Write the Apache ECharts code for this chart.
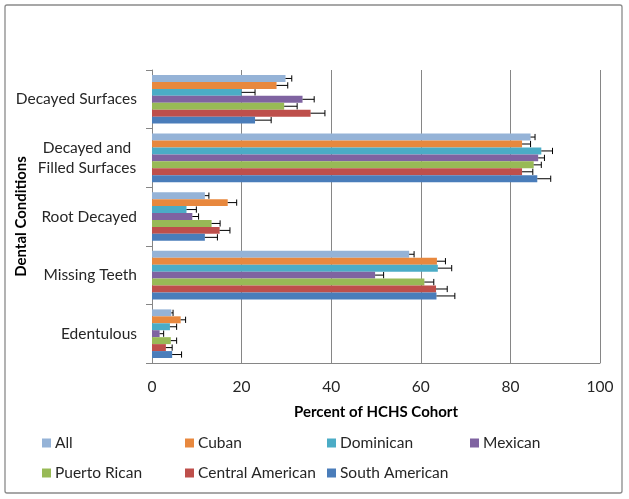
<!DOCTYPE html>
<html><head><meta charset="utf-8">
<script src="https://cdn.jsdelivr.net/npm/echarts@6/dist/echarts.min.js"></script>
<style>html,body{margin:0;padding:0;background:#fff}#c{width:629px;height:499px}</style>
</head><body><div id="c"></div>
<script>
const categories = ['Decayed Surfaces', 'Decayed and\nFilled Surfaces', 'Root Decayed', 'Missing Teeth', 'Edentulous'];
const seriesNames = ['All', 'Cuban', 'Dominican', 'Mexican', 'Puerto Rican', 'Central American', 'South American'];
const colors = ['#95B3D7', '#E8883E', '#4BACC6', '#7F63A1', '#98BA56', '#BE4F4B', '#4A7DBA'];

// bar values per group
const allVals      = [29.8, 84.5, 11.8, 57.4, 4.3];
const cubanVals    = [27.8, 82.6, 16.9, 63.6, 6.4];
const dominicanVals= [20.0, 86.9, 7.7, 63.8, 4.0];
const mexicanVals  = [33.6, 86.2, 9.0, 49.8, 1.7];
const prVals       = [29.5, 85.2, 13.3, 60.8, 4.2];
const caVals       = [35.4, 82.6, 15.1, 63.4, 3.1];
const saVals       = [23.0, 86.0, 11.8, 63.5, 4.5];

// upper ends of error bars
const allErr       = [31.2, 85.5, 12.7, 58.5, 4.7];
const cubanErr     = [30.3, 84.5, 18.9, 65.5, 7.5];
const dominicanErr = [23.0, 89.4, 9.9, 66.9, 5.5];
const mexicanErr   = [36.2, 87.6, 10.4, 51.7, 2.6];
const prErr        = [32.4, 86.9, 15.2, 62.9, 5.5];
const caErr        = [38.6, 85.0, 17.4, 65.9, 4.5];
const saErr        = [26.6, 89.0, 14.6, 67.6, 6.6];

const xTicks = [0, 20, 40, 60, 80, 100];

const values = [allVals, cubanVals, dominicanVals, mexicanVals, prVals, caVals, saVals];
const errs = [allErr, cubanErr, dominicanErr, mexicanErr, prErr, caErr, saErr];

const FONT = 'Lato';
const GAP = 0.17;
const N = seriesNames.length;

const series = [];
seriesNames.forEach((name, i) => {
  series.push({
    name: name, type: 'bar', data: values[i],
    itemStyle: { color: colors[i] },
    barGap: '0%', barCategoryGap: (GAP * 100) + '%',
    silent: true
  });
});
seriesNames.forEach((name, i) => {
  series.push({
    type: 'custom', name: name + ' err', silent: true, z: 5,
    data: values[i].map((v, k) => [v, k, errs[i][k]]),
    encode: { x: [0, 2], y: 1 },
    renderItem: function (params, api) {
      const v = api.value(0), k = api.value(1), hi = api.value(2);
      const p0 = api.coord([v, k]);
      const p1 = api.coord([hi, k]);
      const band = api.size([0, 1])[1];
      const bw = band * (1 - GAP) / N;
      const y = p0[1] - band * (1 - GAP) / 2 + (i + 0.5) * bw;
      const cap = bw * 0.9;
      const st = { stroke: '#000', lineWidth: 1 };
      return { type: 'group', children: [
        { type: 'line', shape: { x1: p0[0], y1: y, x2: p1[0], y2: y }, style: st },
        { type: 'line', shape: { x1: p1[0], y1: y - cap / 2, x2: p1[0], y2: y + cap / 2 }, style: st }
      ]};
    }
  });
});

const legendPos = [[42, 435], [185, 435], [327, 435], [470, 435], [42, 465], [185, 465], [327, 465]];
const legends = seriesNames.map((n, i) => ({
  data: [n], left: legendPos[i][0], top: legendPos[i][1], padding: 0,
  icon: 'rect', itemWidth: 9, itemHeight: 9, itemGap: 5, selectedMode: false,
  textStyle: { fontFamily: FONT, fontSize: 15.5, color: '#262626', padding: [0, 0, 0, -1] }
}));

const chart = echarts.init(document.getElementById('c'), null, { renderer: 'canvas' });
chart.setOption({
  animation: false,
  backgroundColor: '#fff',
  textStyle: { fontFamily: FONT },
  graphic: [{ type: 'rect', shape: { x: 5, y: 5, width: 617, height: 488, r: 2 }, style: { fill: 'none', stroke: '#8a8a8a', lineWidth: 1.3 }, silent: true }],
  legend: legends,
  grid: { left: 152, right: 29, top: 70, bottom: 136, containLabel: false, outerBoundsMode: 'none' },
  xAxis: {
    type: 'value', min: xTicks[0], max: xTicks[xTicks.length - 1], interval: 20,
    name: 'Percent of HCHS Cohort', nameLocation: 'middle', nameGap: 42, nameMoveOverlap: false,
    nameTextStyle: { fontFamily: FONT, fontSize: 15, fontWeight: 'bold', color: '#000' },
    axisLine: { show: true, lineStyle: { color: '#868686' } },
    axisTick: { show: false },
    splitLine: { show: true, lineStyle: { color: '#868686', width: 1 } },
    axisLabel: { fontFamily: FONT, fontSize: 15.5, color: '#262626', margin: 16 }
  },
  yAxis: {
    type: 'category', data: categories, inverse: true,
    name: 'Dental Conditions', nameLocation: 'middle', nameGap: 123, nameMoveOverlap: false,
    nameTextStyle: { fontFamily: FONT, fontSize: 15, fontWeight: 'bold', color: '#000' },
    axisLine: { show: true, lineStyle: { color: '#868686' } },
    axisTick: { show: true, length: 6, lineStyle: { color: '#868686' } },
    axisLabel: {
      fontFamily: FONT, fontSize: 15.5, color: '#262626', margin: 15,
      formatter: function (v) {
        if (v.indexOf('\n') >= 0) return v.split('\n').map(s => '{c|' + s + '}').join('\n');
        return v;
      },
      rich: { c: { fontFamily: FONT, fontSize: 15.5, color: '#262626', width: 100, align: 'center', lineHeight: 20 } }
    }
  },
  series: series
});
</script></body></html>
